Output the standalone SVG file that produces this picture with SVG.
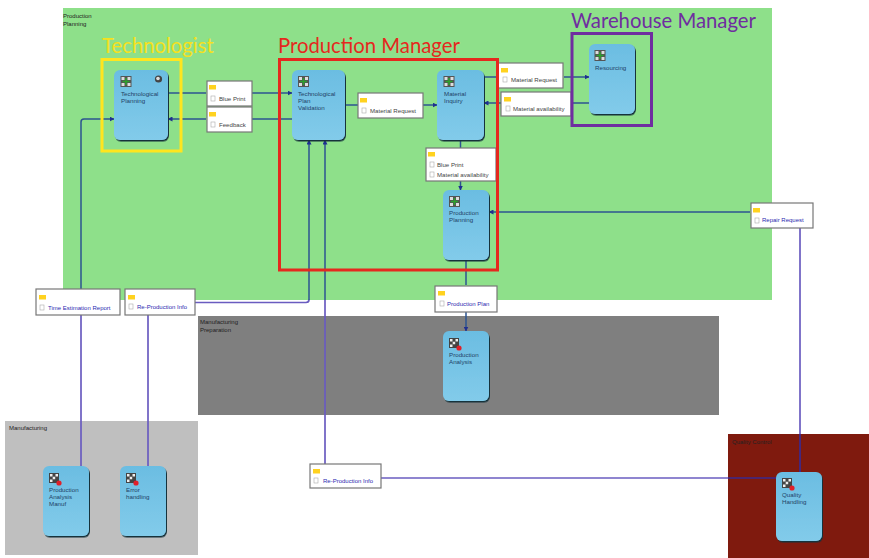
<svg xmlns="http://www.w3.org/2000/svg" width="869" height="558" viewBox="0 0 869 558">
<style>
text{font-family:"Liberation Sans",Arial,sans-serif}
.zl{font-size:6px;fill:#222}
.nt{font-size:6.2px;fill:#1f3f66}
.lt{font-size:6.1px;fill:#444}
.lb{font-size:6px;fill:#2a2ab0}
.role{font-family:"Lato","Liberation Sans",sans-serif;font-size:20.300px}
.box{fill:#fff;stroke:#777;stroke-width:1.2}
.task{fill:url(#tg);filter:url(#sh)}
.c1{fill:none;stroke:#2c5490;stroke-width:1.5}
.c2{fill:none;stroke:#6a5cc0;stroke-width:1.7}
.frame{fill:none;stroke-width:3}
</style>
<defs>
<linearGradient id="tg" x1="0" y1="0" x2="0" y2="1"><stop offset="0" stop-color="#6bbde2"/><stop offset="1" stop-color="#82cbea"/></linearGradient>
<filter id="sh" x="-15%" y="-15%" width="130%" height="130%"><feDropShadow dx="1" dy="1.500" stdDeviation="0.600" flood-color="#12303a" flood-opacity="1"/></filter>
<marker id="ar" markerWidth="5" markerHeight="5" refX="4.500" refY="2.500" orient="auto" markerUnits="userSpaceOnUse"><path d="M0 0L5 2.500L0 5Z" fill="#1f2f90"/></marker>
<g id="folder"><rect x="0" y="0" width="7" height="4.500" fill="#ffd21f"/></g>
<g id="doc"><rect x="0" y="0" width="4" height="5" fill="#fff" stroke="#aaa" stroke-width="0.6"/></g>
<g id="ic1"><rect width="11" height="11" fill="#555"/><path d="M1 1h3v3h-3zM7 1h3v3h-3zM1 7h3v3h-3zM7 7h3v3h-3z" fill="#ddd"/><path d="M5.500 2v7M2 5.500h7" stroke="#2da02d" stroke-width="1.6"/></g>
<g id="ic2"><rect width="10" height="10" fill="#444"/><path d="M1 1h2.500v2.500h-2.500zM6.500 1h2.500v2.500h-2.500zM3.700 3.700h2.500v2.500h-2.500zM1 6.500h2.500v2.500h-2.500z" fill="#eee"/><circle cx="10" cy="10" r="2.600" fill="#e0202a"/></g>
</defs>
<rect width="869" height="558" fill="#fff"/>
<g id="zones">
<g id="zone-planning"><rect x="63" y="8" width="709" height="292" fill="#8ee08a"/><text class="zl" x="63" y="18">Production</text><text class="zl" x="63" y="26">Planning</text></g>
<g id="zone-preparation"><rect x="198" y="316" width="521" height="99" fill="#7f7f7f"/><text class="zl" x="200" y="323.500">Manufacturing</text><text class="zl" x="200" y="331.500">Preparation</text></g>
<g id="zone-manufacturing"><rect x="5" y="421" width="193" height="134" fill="#bfbfbf"/><text class="zl" x="9" y="430">Manufacturing</text></g>
<g id="zone-quality"><rect x="728" y="434" width="141" height="124" fill="#7f1a0e"/><text class="zl" x="732" y="444">Quality Control</text></g>
</g>
<g id="connectors">
<path class="c1" d="M168 93H206"/>
<path class="c1" d="M252 93H292" marker-end="url(#ar)"/>
<path class="c1" d="M292 119H252"/>
<path class="c1" d="M206 119H168" marker-end="url(#ar)"/>
<path class="c1" d="M81 289V122Q81 119 84 119H114" marker-end="url(#ar)"/>
<path class="c2" d="M81 315V466"/>
<path class="c2" d="M148 315V466"/>
<path class="c2" d="M195 302.500H306Q309 302.500 309 299.500"/>
<path class="c1" d="M309 300V140" marker-end="url(#ar)"/>
<path class="c2" d="M325 464V300"/>
<path class="c1" d="M325 300V140" marker-end="url(#ar)"/>
<path class="c1" d="M345 105H358"/>
<path class="c1" d="M423 105H437" marker-end="url(#ar)"/>
<path class="c1" d="M484 77H498"/>
<path class="c1" d="M564 77H589" marker-end="url(#ar)"/>
<path class="c1" d="M589 103H571"/>
<path class="c1" d="M501 103H484" marker-end="url(#ar)"/>
<path class="c1" d="M460.500 140V148"/>
<path class="c1" d="M460.500 181V190" marker-end="url(#ar)"/>
<path class="c1" d="M750 212H489" marker-end="url(#ar)"/>
<path class="c1" d="M466 260V285"/>
<path class="c1" d="M466 312V331" marker-end="url(#ar)"/>
<path class="c2" d="M800 228V434"/>
<path d="M800 434V472" fill="none" stroke="#3a2a90" stroke-width="1.700"/>
<path class="c2" d="M381 478H728"/>
<path d="M728 478H776" fill="none" stroke="#3a2a90" stroke-width="1.700"/>
</g>
<g id="tasks">
<g id="n-technological-planning"><rect class="task" x="114" y="70" width="54" height="70" rx="6"/><use href="#ic1" x="120.500" y="76"/><circle cx="158.500" cy="79" r="3.600" fill="#444"/><circle cx="158" cy="78.500" r="1.800" fill="#ddd"/><text class="nt" x="121" y="96">Technological</text><text class="nt" x="121" y="103">Planning</text></g>
<g id="n-plan-validation"><rect class="task" x="292" y="70" width="53" height="70" rx="6"/><use href="#ic1" x="298" y="76"/><text class="nt" x="298" y="96">Technological</text><text class="nt" x="298" y="103">Plan</text><text class="nt" x="298" y="110">Validation</text></g>
<g id="n-material-inquiry"><rect class="task" x="437" y="70" width="47" height="70" rx="6"/><use href="#ic1" x="443.500" y="76"/><text class="nt" x="444" y="96">Material</text><text class="nt" x="444" y="103">Inquiry</text></g>
<g id="n-resourcing"><rect class="task" x="589" y="44" width="46" height="70" rx="6"/><use href="#ic1" x="594.500" y="50"/><text class="nt" x="595" y="70">Resourcing</text></g>
<g id="n-production-planning"><rect class="task" x="443" y="190" width="46" height="70" rx="6"/><use href="#ic1" x="449" y="196"/><text class="nt" x="449" y="215">Production</text><text class="nt" x="449" y="222">Planning</text></g>
<g id="n-production-analysis"><rect class="task" x="443" y="331" width="46" height="70" rx="6"/><use href="#ic2" x="449" y="338"/><text class="nt" x="449" y="357">Production</text><text class="nt" x="449" y="364">Analysis</text></g>
<g id="n-analysis-manuf"><rect class="task" x="43" y="466" width="46" height="70" rx="6"/><use href="#ic2" x="49" y="473"/><text class="nt" x="49" y="492">Production</text><text class="nt" x="49" y="499">Analysis</text><text class="nt" x="49" y="506">Manuf</text></g>
<g id="n-error-handling"><rect class="task" x="120" y="466" width="46" height="70" rx="6"/><use href="#ic2" x="126" y="473"/><text class="nt" x="126" y="492">Error</text><text class="nt" x="126" y="499">handling</text></g>
<g id="n-quality-handling"><rect class="task" x="776" y="472" width="46" height="69" rx="6"/><use href="#ic2" x="782" y="478"/><text class="nt" x="782" y="497">Quality</text><text class="nt" x="782" y="504">Handling</text></g>
</g>
<g id="data">
<g id="d-blue-print"><rect class="box" x="207" y="81" width="45" height="25"/><use href="#folder" x="209" y="85"/><use href="#doc" x="211" y="96"/><text class="lt" x="219" y="101">Blue Print</text></g>
<g id="d-feedback"><rect class="box" x="207" y="107" width="45" height="25"/><use href="#folder" x="209" y="112"/><use href="#doc" x="211" y="122"/><text class="lt" x="219" y="127">Feedback</text></g>
<g id="d-material-request-1"><rect class="box" x="358" y="93" width="65" height="25"/><use href="#folder" x="360" y="98"/><use href="#doc" x="362" y="108"/><text class="lt" x="370" y="112.500">Material Request</text></g>
<g id="d-material-request-2"><rect class="box" x="498" y="63" width="65" height="25"/><use href="#folder" x="501" y="68"/><use href="#doc" x="503" y="77"/><text class="lt" x="511" y="82">Material Request</text></g>
<g id="d-material-availability"><rect class="box" x="501" y="92" width="70" height="24"/><use href="#folder" x="504" y="97"/><use href="#doc" x="506" y="106"/><text class="lt" x="513" y="111">Material availability</text></g>
<g id="d-blue-material"><rect class="box" x="426" y="148" width="70" height="33"/><use href="#folder" x="428" y="152"/><use href="#doc" x="430" y="162"/><text class="lt" x="437" y="166.500">Blue Print</text><use href="#doc" x="430" y="172"/><text class="lt" x="437" y="176.500">Material availability</text></g>
<g id="d-repair-request"><rect class="box" x="751" y="203" width="62" height="25"/><use href="#folder" x="753" y="208"/><use href="#doc" x="755" y="218"/><text class="lb" x="762" y="222">Repair Request</text></g>
<g id="d-production-plan"><rect class="box" x="435" y="286" width="62" height="26"/><use href="#folder" x="438" y="291"/><use href="#doc" x="440" y="301"/><text class="lb" x="447" y="305.500">Production Plan</text></g>
<g id="d-time-estimation"><rect class="box" x="36" y="289" width="84" height="26"/><use href="#folder" x="39" y="295"/><use href="#doc" x="40" y="305"/><text class="lb" x="48" y="310">Time Estimation Report</text></g>
<g id="d-reproduction-1"><rect class="box" x="125" y="289" width="70" height="26"/><use href="#folder" x="128" y="295"/><use href="#doc" x="129" y="304"/><text class="lb" x="137" y="309">Re-Production Info</text></g>
<g id="d-reproduction-2"><rect class="box" x="310" y="464" width="71" height="24"/><use href="#folder" x="313" y="469"/><use href="#doc" x="314" y="478"/><text class="lb" x="323" y="483">Re-Production Info</text></g>
</g>
<g id="roles">
<g id="r-technologist"><rect class="frame" x="102" y="59.500" width="79" height="91.500" stroke="#ffe51e"/><text class="role" x="102" y="53" fill="#f5e11e">Technologist</text></g>
<g id="r-production-manager"><rect class="frame" x="279.500" y="59.500" width="218" height="210.500" stroke="#e5281e"/><text class="role" x="278" y="53" fill="#e5281e">Production Manager</text></g>
<g id="r-warehouse-manager"><rect class="frame" x="572" y="33.500" width="79.500" height="92" stroke="#6f2da0"/><text class="role" x="571" y="28" fill="#6f2da0">Warehouse Manager</text></g>
</g>
</svg>
